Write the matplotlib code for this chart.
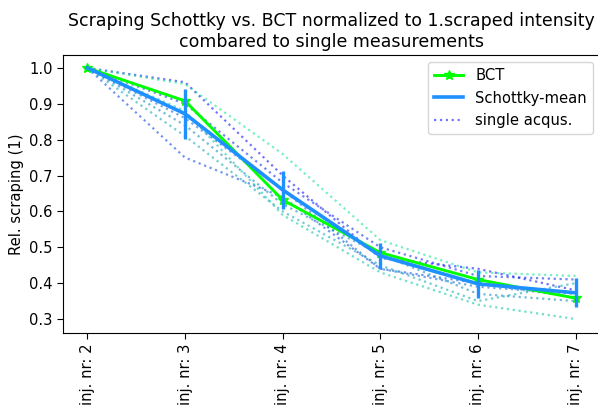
import numpy as np
import matplotlib
matplotlib.use('Agg')
import matplotlib.pyplot as plt

labels = ["inj. nr: 2", "inj. nr: 3", "inj. nr: 4", "inj. nr: 5", "inj. nr: 6", "inj. nr: 7"]

bct = [1.0, 0.908, 0.632, 0.485, 0.41, 0.358]
schottky_mean = [1.0, 0.872, 0.66, 0.476, 0.398, 0.373]
schottky_err = [0.0, 0.07, 0.054, 0.036, 0.039, 0.04]

# single acquisitions
singles = [
    [1.0, 0.96, 0.70, 0.47, 0.44, 0.38],
    [1.0, 0.90, 0.68, 0.50, 0.42, 0.41],
    [1.0, 0.75, 0.64, 0.44, 0.40, 0.36],
    [1.0, 0.86, 0.66, 0.44, 0.39, 0.37],
    [1.0, 0.84, 0.62, 0.48, 0.37, 0.35],
    [1.0, 0.81, 0.60, 0.45, 0.35, 0.40],
    [1.0, 0.88, 0.59, 0.43, 0.34, 0.30],
    [1.0, 0.955, 0.76, 0.52, 0.43, 0.42],
]

FS = 10.6
plt.rcParams.update({'font.size': FS, 'xtick.major.size': 4, 'ytick.major.size': 4})

fig = plt.figure(figsize=(5.98, 4.08), dpi=100)
ax = fig.add_axes([63/598, 75/408, 537/598, 278/408])

x = np.arange(len(labels))
cols = plt.cm.winter(np.linspace(0, 0.9, len(singles)))

ax.plot(x, bct, '-*', color='lime', lw=2.1, markersize=7, label='BCT', zorder=3)
ax.plot(x, schottky_mean, '-', color='dodgerblue', lw=2.6, label='Schottky-mean', zorder=4)
ax.errorbar(x, schottky_mean, yerr=schottky_err, fmt='none', ecolor='dodgerblue',
            elinewidth=2.4, zorder=4)
for i, s in enumerate(singles):
    ax.plot(x, s, ':', color=cols[i], alpha=0.55, lw=1.6,
            label='single acqus.' if i == 0 else None, zorder=2)

ax.set_xticks(x)
ax.set_xticklabels(labels, rotation=90)
ax.set_ylim(0.261, 1.036)
ax.set_ylabel('Rel. scraping (1)')
ax.set_title('Scraping Schottky vs. BCT normalized to 1.scraped intensity\ncombared to single measurements',
             fontsize=12.5)
ax.legend(loc='upper right', fontsize=FS)

fig.savefig('out.png', dpi=100)
